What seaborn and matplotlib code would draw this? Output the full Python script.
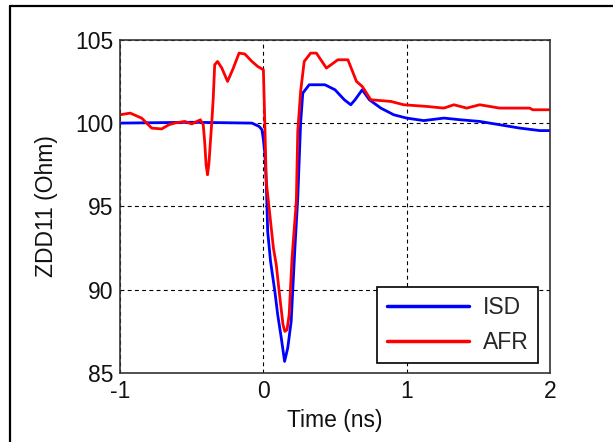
import numpy as np
import pandas as pd
import matplotlib
matplotlib.use("Agg")
import matplotlib.pyplot as plt
from matplotlib.lines import Line2D
import seaborn as sns

# Series values
isd_time = [-1.0, -0.5, -0.08, -0.03, -0.01, 0.0, 0.01, 0.02, 0.03, 0.05, 0.08,
            0.10, 0.125, 0.148, 0.17, 0.194, 0.22, 0.24, 0.26, 0.275, 0.32, 0.43,
            0.50, 0.565, 0.61, 0.64, 0.69, 0.74, 0.82, 0.91, 1.0, 1.12, 1.26,
            1.375, 1.51, 1.65, 1.79, 1.93, 2.0]
isd_z = [100.0, 100.05, 100.0, 99.8, 99.6, 99.0, 98.2, 96.5, 93.5, 91.7, 89.9,
         88.5, 87.1, 85.7, 86.5, 88.1, 92.5, 95.5, 100.0, 101.8, 102.3, 102.3,
         102.0, 101.4, 101.1, 101.4, 102.0, 101.4, 100.9, 100.5, 100.3, 100.15, 100.3,
         100.2, 100.1, 99.9, 99.7, 99.55, 99.55]

afr_time = [-1.0, -0.93, -0.85, -0.78, -0.71, -0.66, -0.62, -0.55, -0.5, -0.44,
            -0.42, -0.41, -0.40, -0.39, -0.38, -0.36, -0.35, -0.34, -0.32, -0.29,
            -0.25, -0.21, -0.17, -0.13, -0.08, -0.04, 0.0, 0.01, 0.02, 0.045, 0.07,
            0.09, 0.11, 0.137, 0.15, 0.165, 0.18, 0.20, 0.23, 0.24, 0.26, 0.285,
            0.33, 0.37, 0.44, 0.52, 0.59, 0.65, 0.69, 0.75, 0.89, 0.98, 1.14, 1.26,
            1.33, 1.42, 1.51, 1.65, 1.86, 1.88, 2.0]
afr_z = [100.5, 100.6, 100.3, 99.7, 99.65, 99.9, 100.0, 100.1, 99.95, 100.2,
         99.9, 98.9, 97.5, 96.9, 97.6, 100.1, 101.5, 103.5, 103.7, 103.3,
         102.5, 103.3, 104.2, 104.15, 103.7, 103.4, 103.2, 100.0, 96.5, 94.5, 92.5,
         91.5, 89.9, 87.9, 87.5, 87.6, 88.5, 91.9, 95.3, 99.5, 101.9, 103.7,
         104.2, 104.2, 103.3, 103.8, 103.8, 102.5, 102.2, 101.4, 101.3, 101.1, 101.0, 100.9,
         101.1, 100.9, 101.1, 100.9, 100.9, 100.8, 100.8]

series_names = ["ISD", "AFR"]
x_ticks = [-1, 0, 1, 2]
y_ticks = [85, 90, 95, 100, 105]

df = pd.concat([
    pd.DataFrame({"Time": isd_time, "Z": isd_z, "Model": "ISD"}),
    pd.DataFrame({"Time": afr_time, "Z": afr_z, "Model": "AFR"}),
], ignore_index=True)

sns.set_style("white")
plt.rcParams["font.family"] = ["Liberation Sans", "DejaVu Sans"]
plt.rcParams["axes.unicode_minus"] = False

fig = plt.figure(figsize=(6.13, 4.42), dpi=100)
ax = fig.add_axes([0.196, 0.156, 0.701, 0.754])

sns.lineplot(data=df, x="Time", y="Z", hue="Model", hue_order=series_names,
             palette={"ISD": "#0000ff", "AFR": "#ff0000"}, estimator=None,
             sort=False, linewidth=2.0, ax=ax)

ax.set_xlim(-1, 2)
ax.set_ylim(85, 105)
ax.set_xticks(x_ticks)
ax.set_yticks(y_ticks)
ax.grid(True, color="black", linestyle=(0, (3.5, 3)), linewidth=0.8)
ax.tick_params(direction="in", length=3, pad=5, labelsize=16.5, colors="#111111")
for s in ax.spines.values():
    s.set_color("#333333")
    s.set_linewidth(1.2)

ax.set_xlabel("Time (ns)", fontsize=16.5, labelpad=4, color="#111111")
ax.set_ylabel("ZDD11 (Ohm)", fontsize=16.5, labelpad=12, color="#111111")

leg = ax.legend(loc="lower right", bbox_to_anchor=(0.972, 0.03), borderaxespad=0,
                fontsize=16.5, frameon=True, fancybox=False, framealpha=1,
                edgecolor="black", handlelength=3.6, borderpad=0.4,
                labelspacing=0.5, handletextpad=0.6)
leg.get_frame().set_linewidth(1.2)
for line in leg.get_lines():
    line.set_linewidth(2.5)

# outer frame (left and top edges)
fig.add_artist(Line2D([10 / 613, 10 / 613], [0, 1 - 6 / 442], color="black", linewidth=1.6))
fig.add_artist(Line2D([10 / 613, 1], [1 - 6 / 442, 1 - 6 / 442], color="black", linewidth=1.6))

fig.savefig("out.png", dpi=100)
